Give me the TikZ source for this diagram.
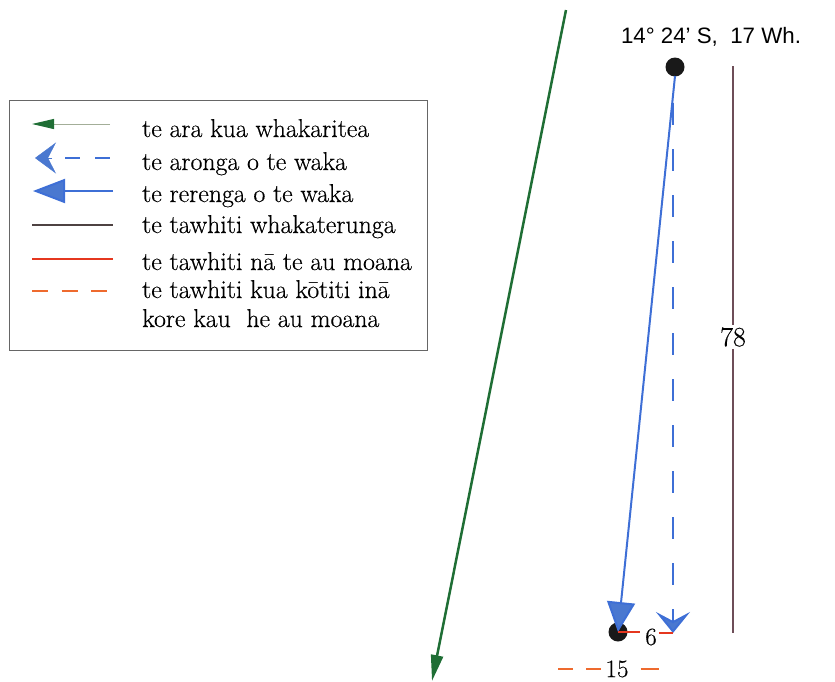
\documentclass[tikz,border=0pt]{standalone}
\usepackage{fontspec}
\newfontfamily\arialfont{Liberation Sans}
\newfontfamily\legfont{Latin Modern Roman}[FakeBold=0.4]
\usetikzlibrary{arrows.meta}
\definecolor{dkgreen}{HTML}{1F6E35}
\definecolor{leggreenline}{HTML}{A3AE98}
\definecolor{wblue}{HTML}{3E6FD6}
\definecolor{wbluefill}{HTML}{4A78D0}
\definecolor{dbrown}{HTML}{6E4E58}
\definecolor{legbrown}{HTML}{4E4242}
\definecolor{cred}{HTML}{E5371F}
\definecolor{corange}{HTML}{EE6A2E}
\definecolor{boxgray}{HTML}{666666}
\tikzset{
  legtext/.style={anchor=base west, inner sep=0pt, font=\legfont\fontsize{25.8}{30}\selectfont},
  numlabel/.style={inner sep=3pt, font=\legfont\fontsize{25}{30}\selectfont},
  posdot/.style={circle, fill=black!90, minimum size=19pt, inner sep=0pt},
  trackline/.style={draw=dkgreen, line width=2.5pt},
  courseline/.style={draw=wblue, line width=2pt},
  headingline/.style={draw=wblue, line width=2pt, dash pattern=on 22pt off 24pt},
  vertline/.style={draw=dbrown, line width=2pt},
  currentline/.style={draw=cred, line width=2pt},
  driftline/.style={draw=corange, line width=2.5pt, dash pattern=on 15pt off 13pt},
}
\begin{document}
\begin{tikzpicture}[x=1pt,y=-1pt]
\useasboundingbox (0,0) rectangle (835,681);

% legend box
\node[draw=boxgray, line width=0.8pt, minimum width=418pt, minimum height=250pt, inner sep=0pt, anchor=north west] (legbox) at (9,100) {};

% legend row 1: track
\coordinate (l1a) at (32,124);
\coordinate (l1b) at (110,124);
\draw[draw=leggreenline, line width=1pt, -{Triangle[length=22pt,width=10pt,color=dkgreen]}] (l1b) -- (l1a);
\node[legtext] (t1) at (142,137) {te ara kua whakaritea};

% legend row 2: heading
\coordinate (l2a) at (35,158);
\coordinate (l2h) at (52,158);
\coordinate (l2b) at (65,158);
\coordinate (l2c) at (110,158);
\draw[draw=wbluefill, line width=0.5pt, -{Stealth[length=21pt,width=31pt,inset=8pt,fill=wbluefill]}] (l2h) -- (l2a);
\draw[wblue, line width=2pt, dash pattern=on 15pt off 15pt] (l2b) -- (l2c);
\node[legtext] (t2) at (142,170) {te aronga o te waka};

% legend row 3: course
\coordinate (l3a) at (33,191);
\coordinate (l3b) at (113,191);
\draw[courseline, -{Triangle[length=32pt,width=24pt,fill=wbluefill]}] (l3b) -- (l3a);
\node[legtext] (t3) at (142,202) {te rerenga o te waka};

% legend row 4
\coordinate (l4a) at (32,225);
\coordinate (l4b) at (113,225);
\draw[draw=legbrown, line width=2pt] (l4a) -- (l4b);
\node[legtext] (t4) at (142,233) {te tawhiti whakaterunga};

% legend row 5
\coordinate (l5a) at (32,259);
\coordinate (l5b) at (113,259);
\draw[currentline, line width=2.5pt] (l5a) -- (l5b);
\node[legtext] (t5) at (142,270) {te tawhiti nā te au moana};

% legend row 6
\coordinate (l6a) at (32,291);
\coordinate (l6b) at (110,291);
\draw[driftline, line width=2pt, dash pattern=on 16pt off 13.5pt] (l6a) -- (l6b);
\node[legtext] (t6) at (142,298) {te tawhiti kua kōtiti inā};
\node[legtext] (t7) at (142,327) {kore kau\ \ he au moana};

% green track
\coordinate (g1) at (566,10);
\coordinate (g2) at (432,681);
\draw[trackline, -{Triangle[length=26pt,width=12pt]}] (g1) -- (g2);

% top label and positions
\node[inner sep=0pt, anchor=base, font=\arialfont\fontsize{22.3}{26}\selectfont] (lbl) at (711,43) {14° 24’ S,\ \ 17 Wh.};
\node[posdot] (top) at (675,67) {};
\node[posdot] (bot) at (618,632) {};
\coordinate (dtop) at (673,103);
\coordinate (dtip) at (673,633);

% vertical distance
\coordinate (btop) at (733,66);
\coordinate (bbot) at (733,633);
\node[numlabel, font=\legfont\fontsize{28}{32}\selectfont, inner sep=2pt] (n78) at (733,337) {78};
\draw[vertline] (btop) -- (n78);
\draw[vertline] (n78) -- (bbot);

% heading (dashed)
\draw[headingline, -{Stealth[length=21pt,width=34pt,inset=9pt,fill=wbluefill]}] (dtop) -- (dtip);

% course
\draw[courseline, -{Triangle[length=30pt,width=28pt,fill=wbluefill]}] ([yshift=-9pt]top.center) -- (bot.center);

% current distance 6
\node[numlabel, inner sep=0pt] (n6) at (651,637) {6};
\draw[currentline] (bot.center) -- ([xshift=-5pt]bot -| n6.west);
\draw[currentline] ([xshift=2pt]dtip -| n6.east) -- (dtip);

% drift distance 15
\node[numlabel, inner sep=0pt] (n15) at (617,669) {15};
\coordinate (r15a) at (558,669);
\coordinate (r15b) at (659,669);
\draw[driftline] (r15a) -- ([xshift=-2pt]n15.west);
\draw[driftline, dash pattern=] ([xshift=12pt]n15.east) -- (r15b);
\end{tikzpicture}
\end{document}
